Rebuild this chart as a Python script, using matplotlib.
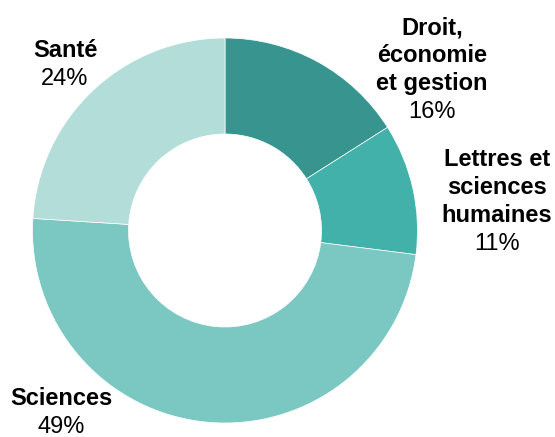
import matplotlib.pyplot as plt

plt.rcParams['font.family'] = ['Liberation Sans', 'DejaVu Sans']

# Répartition par discipline
disciplines = ["Droit,\néconomie\net gestion", "Lettres et\nsciences\nhumaines", "Sciences", "Santé"]
parts = [16, 11, 49, 24]
couleurs = ["#37948f", "#42b1aa", "#7bc8c2", "#b3ddd9"]

# Étiquettes : centre horizontal et ligne de base de la première ligne (pixels depuis le haut)
label_x = [432, 497, 61, 65]
label_y = [34, 166, 405, 57]
pas = 28

H = 437
fig = plt.figure(figsize=(5.55, 4.37), dpi=100)
ax = fig.add_axes([0, 0, 1, 1])

ax.pie(parts, colors=couleurs, startangle=90, counterclock=False,
       center=(225, H - 230.5), radius=192.5,
       wedgeprops=dict(width=96, edgecolor='white', linewidth=0.5))

# pie() impose ses propres limites : on les remet après
ax.set_xlim(0, 555)
ax.set_ylim(0, H)
ax.set_aspect('equal')
ax.axis('off')

for nom, p, x, y in zip(disciplines, parts, label_x, label_y):
    lignes = nom.split("\n")
    for i, l in enumerate(lignes):
        ax.text(x, H - (y + i * pas), l, ha='center', va='baseline',
                fontsize=17, fontweight='bold')
    ax.text(x, H - (y + len(lignes) * pas), f"{p}%", ha='center',
            va='baseline', fontsize=17)

fig.savefig("out.png", dpi=100)
